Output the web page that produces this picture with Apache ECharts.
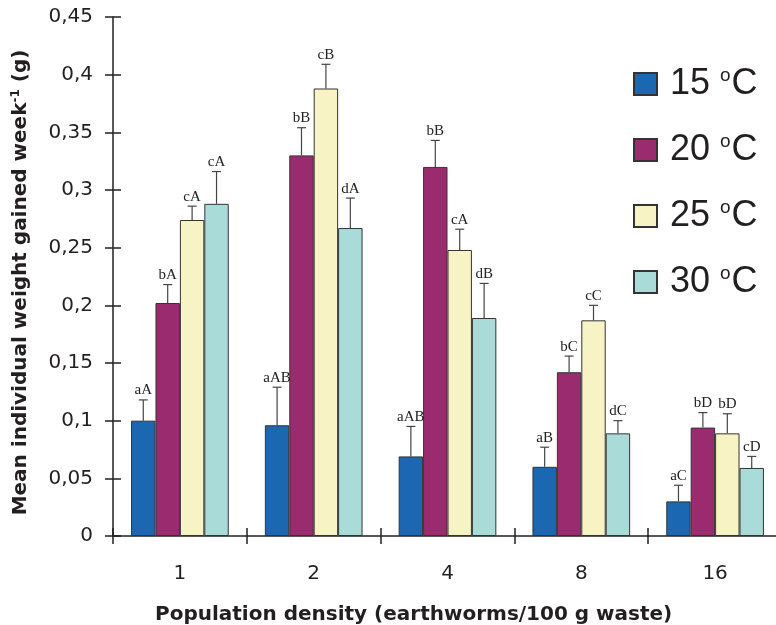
<!DOCTYPE html>
<html><head><meta charset="utf-8">
<script src="https://cdn.jsdelivr.net/npm/echarts@6/dist/echarts.min.js"></script>
<style>html,body{margin:0;padding:0;background:#fff}#c{width:776px;height:625px}</style>
</head><body><div id="c"></div>
<script>
var categories = ['1', '2', '4', '8', '16'];
var seriesNames = ['15', '20', '25', '30'];
var mean15 = [0.100, 0.096, 0.069, 0.060, 0.030];
var mean20 = [0.202, 0.330, 0.320, 0.142, 0.094];
var mean25 = [0.274, 0.388, 0.248, 0.187, 0.089];
var mean30 = [0.288, 0.267, 0.189, 0.089, 0.059];
var err15 = [0.018, 0.033, 0.026, 0.017, 0.014];
var err20 = [0.016, 0.024, 0.023, 0.014, 0.013];
var err25 = [0.012, 0.021, 0.018, 0.013, 0.017];
var err30 = [0.028, 0.026, 0.030, 0.011, 0.010];
var lab15 = ['aA', 'aAB', 'aAB', 'aB', 'aC'];
var lab20 = ['bA', 'bB', 'bB', 'bC', 'bD'];
var lab25 = ['cA', 'cB', 'cA', 'cC', 'bD'];
var lab30 = ['cA', 'dA', 'dB', 'dC', 'cD'];
var yTicks = [0, 0.05, 0.1, 0.15, 0.2, 0.25, 0.3, 0.35, 0.4, 0.45];

var means = [mean15, mean20, mean25, mean30];
var errs = [err15, err20, err25, err30];
var labs = [lab15, lab20, lab25, lab30];
var colors = ['#1c67b2', '#9b2b6f', '#f8f3c4', '#a9dcd9'];
var catGap = 0.27;
var GL = 113, GR = -6, GT = 17, GB = 89, W = 776, H = 625;
var sansFont = 'DejaVu Sans, Liberation Sans, Arial, sans-serif';

var series = [];
seriesNames.forEach(function (n, i) {
  series.push({
    name: n, type: 'bar', data: means[i], barGap: '0%', barCategoryGap: (catGap * 100) + '%',
    itemStyle: { color: colors[i], borderColor: '#333', borderWidth: 1 },
    emphasis: { disabled: true }, z: 2
  });
});
seriesNames.forEach(function (n, i) {
  series.push({
    type: 'custom', z: 3, silent: true,
    data: means[i].map(function (v, k) { return [k, v, v + errs[i][k], labs[i][k]]; }),
    renderItem: function (params, api) {
      var k = api.value(0);
      var base = api.coord([k, api.value(1)]);
      var top = api.coord([k, api.value(2)]);
      var band = api.size([1, 0])[0];
      var bw = band * (1 - catGap) / 4;
      var x = base[0] + (i - 1.5) * bw;
      var lab = labs[i][k];
      return {
        type: 'group',
        children: [
          { type: 'line', shape: { x1: x, y1: base[1], x2: x, y2: top[1] }, style: { stroke: '#444', lineWidth: 1.2 } },
          { type: 'line', shape: { x1: x - 4.5, y1: top[1], x2: x + 4.5, y2: top[1] }, style: { stroke: '#444', lineWidth: 1.2 } },
          { type: 'text', x: x, y: top[1] - 2, style: { text: lab, fill: '#222', font: '15px "Liberation Serif", "DejaVu Serif", serif', textAlign: 'center', textVerticalAlign: 'bottom' } }
        ]
      };
    }
  });
});

var chart = echarts.init(document.getElementById('c'), null, { renderer: 'canvas' });
chart.setOption({
  animation: false,
  backgroundColor: '#fff',
  grid: { left: GL, right: GR, top: GT, bottom: GB, containLabel: false, outerBoundsMode: 'none' },
  title: {
    text: 'Population density (earthworms/100 g waste)',
    left: 150, top: 600,
    textStyle: { fontFamily: sansFont, fontWeight: 'bold', fontSize: 20, color: '#231f20' }
  },
  legend: {
    orient: 'vertical', left: 628, top: 61, icon: 'rect',
    itemWidth: 23, itemHeight: 22, itemGap: 30,
    data: seriesNames,
    formatter: function (n) { return '{a|' + n + ' }{s|o}{a|C}'; },
    textStyle: {
      color: '#231f20', padding: [0, 0, 0, 8],
      rich: {
        a: { fontSize: 36, fontFamily: 'Liberation Sans, Arial, sans-serif', color: '#231f20', lineHeight: 36 },
        s: { fontSize: 19, fontFamily: 'Liberation Sans, Arial, sans-serif', color: '#231f20', verticalAlign: 'top', lineHeight: 36, padding: [0, 1, 16, 0] }
      }
    }
  },
  xAxis: [{
    type: 'category', data: categories, position: 'bottom',
    axisLine: { lineStyle: { color: '#231f20', width: 1.5 } },
    axisTick: { show: true, length: 8, lineStyle: { color: '#231f20', width: 1.5 } },
    axisLabel: { fontSize: 20, color: '#231f20', margin: 28, fontFamily: sansFont }
  }, {
    type: 'category', data: categories, position: 'top', offset: -(H - GB - GT),
    axisLine: { show: false },
    axisTick: { show: true, length: 8, lineStyle: { color: '#231f20', width: 1.5 } },
    axisLabel: { show: false }
  }],
  yAxis: [{
    type: 'value', min: 0, max: 0.45, interval: 0.05, position: 'left',
    name: '{a|Mean individual weight gained week}{s|-1}{a| (g)}',
    nameLocation: 'middle', nameGap: 81,
    nameTextStyle: {
      padding: [0, 12, 0, 0],
      rich: {
        a: { fontSize: 20, fontWeight: 'bold', color: '#231f20', fontFamily: sansFont },
        s: { fontSize: 12, fontWeight: 'bold', color: '#231f20', fontFamily: sansFont, verticalAlign: 'top', padding: [0, 0, 10, 0] }
      }
    },
    splitLine: { show: false },
    axisLine: { show: true, lineStyle: { color: '#231f20', width: 1.5 } },
    axisTick: { show: true, length: 8, lineStyle: { color: '#231f20', width: 1.5 } },
    axisLabel: {
      fontSize: 20, color: '#231f20', margin: 20, fontFamily: sansFont,
      formatter: function (v) {
        var t = yTicks.reduce(function (a, b) { return Math.abs(b - v) < Math.abs(a - v) ? b : a; });
        return String(t).replace('.', ',');
      }
    }
  }, {
    type: 'value', min: 0, max: 0.45, interval: 0.05, position: 'right', offset: -(W - GL - GR),
    splitLine: { show: false },
    axisLine: { show: false },
    axisTick: { show: true, length: 8, lineStyle: { color: '#231f20', width: 1.5 } },
    axisLabel: { show: false }
  }],
  series: series
});
</script>
</body></html>
